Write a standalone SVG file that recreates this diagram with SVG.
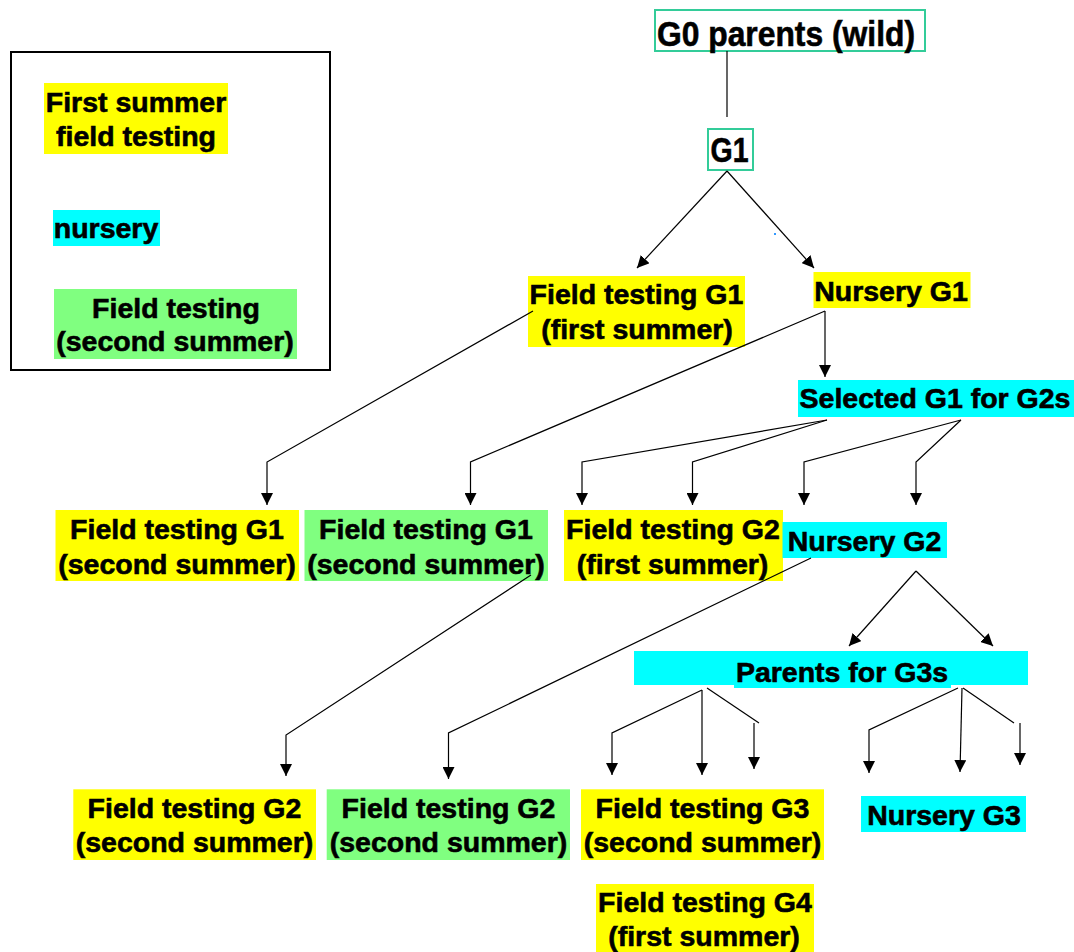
<svg xmlns="http://www.w3.org/2000/svg" width="1074" height="952" viewBox="0 0 1074 952">
<style>
.t{font-family:"Liberation Sans",Arial,sans-serif;font-weight:bold;font-size:28.5px;fill:#000;stroke:#000;stroke-width:0.6;text-anchor:middle}
.y{fill:#FFFF00}.c{fill:#00FFFF}.g{fill:#80FF80}
.bx{fill:#fff;stroke:#33CC99;stroke-width:2}
.ln{stroke:#000;stroke-width:1.2;fill:none}
.a{marker-end:url(#ah)}
</style>
<defs>
<marker id="ah" markerUnits="userSpaceOnUse" markerWidth="12" markerHeight="12" refX="12" refY="6" orient="auto">
<path d="M0,0 L12,6 L0,12 z" fill="#000"/>
</marker>
</defs>
<rect width="1074" height="952" fill="#fff"/>

<g id="legend">
<rect x="11" y="52" width="319" height="318" fill="#fff" stroke="#000" stroke-width="2"/>
<rect class="y" x="44" y="83" width="184" height="71"/>
<text class="t" x="136" y="112">First summer</text>
<text class="t" x="136" y="146">field testing</text>
<rect class="c" x="53" y="210" width="107" height="36"/>
<text class="t" x="106" y="238">nursery</text>
<rect class="g" x="54" y="289" width="243" height="70"/>
<text class="t" x="176" y="318">Field testing</text>
<text class="t" x="175" y="351">(second summer)</text>
</g>

<g id="g0">
<rect class="bx" x="655" y="10" width="270" height="41"/>
<text class="t" x="786" y="46" style="font-size:35px" textLength="258" lengthAdjust="spacingAndGlyphs">G0 parents (wild)</text>
</g>

<g id="g1">
<rect class="bx" x="708" y="129" width="45" height="41"/>
<text class="t" x="729.5" y="162" style="font-size:35px" textLength="38" lengthAdjust="spacingAndGlyphs">G1</text>
</g>

<g id="ft-g1-first">
<rect class="y" x="528" y="276" width="217" height="71"/>
<text class="t" x="636.5" y="304">Field testing G1</text>
<text class="t" x="637" y="339">(first summer)</text>
</g>

<g id="nursery-g1">
<rect class="y" x="813.5" y="272" width="157" height="36"/>
<text class="t" x="891" y="301">Nursery G1</text>
</g>

<g id="selected-g1">
<rect class="c" x="798" y="380" width="276" height="37"/>
<text class="t" x="935" y="408">Selected G1 for G2s</text>
</g>

<g id="ft-g1-second-a">
<rect class="y" x="55.5" y="510" width="243.5" height="71"/>
<text class="t" x="177" y="539">Field testing G1</text>
<text class="t" x="177" y="574">(second summer)</text>
</g>

<g id="ft-g1-second-b">
<rect class="g" x="304.5" y="510" width="243.5" height="71"/>
<text class="t" x="426" y="539">Field testing G1</text>
<text class="t" x="426" y="574">(second summer)</text>
</g>

<g id="ft-g2-first">
<rect class="y" x="564" y="510" width="219" height="71"/>
<text class="t" x="673" y="539">Field testing G2</text>
<text class="t" x="672.5" y="574">(first summer)</text>
</g>

<g id="nursery-g2">
<rect class="c" x="782.5" y="522" width="164.5" height="36"/>
<text class="t" x="864.5" y="551">Nursery G2</text>
</g>

<g id="parents-g3">
<rect class="c" x="634" y="651" width="394" height="34"/>
<rect class="c" x="734" y="651" width="217" height="37"/>
<text class="t" x="842" y="681.5">Parents for G3s</text>
</g>

<g id="ft-g2-second-a">
<rect class="y" x="73.3" y="789.3" width="242.7" height="70.7"/>
<text class="t" x="194.5" y="818">Field testing G2</text>
<text class="t" x="194.5" y="852">(second summer)</text>
</g>

<g id="ft-g2-second-b">
<rect class="g" x="326.7" y="789.3" width="243.3" height="70.7"/>
<text class="t" x="448.5" y="818">Field testing G2</text>
<text class="t" x="448.5" y="852">(second summer)</text>
</g>

<g id="ft-g3-second">
<rect class="y" x="581" y="789.3" width="243" height="70.7"/>
<text class="t" x="702.5" y="818">Field testing G3</text>
<text class="t" x="702.5" y="852">(second summer)</text>
</g>

<g id="nursery-g3">
<rect class="c" x="861" y="796" width="165" height="36"/>
<text class="t" x="944" y="825">Nursery G3</text>
</g>

<g id="ft-g4-first">
<rect class="y" x="596" y="884" width="218" height="68"/>
<text class="t" x="705" y="912">Field testing G4</text>
<text class="t" x="704" y="946">(first summer)</text>
</g>

<g id="connectors">
<path class="ln" d="M727,51 L727,117"/>
<path class="ln a" d="M727,171 L637,268"/>
<path class="ln a" d="M727,171 L814,268"/>
<rect x="774" y="233" width="2" height="2" fill="#3399ff"/>
<path class="ln a" d="M825,311 L825,377"/>
<path class="ln a" d="M825,311 L470.5,462 L470.5,505"/>
<path class="ln a" d="M533,311 L267,462 L267,505"/>
<path class="ln a" d="M827,420 L582,462 L582,505"/>
<path class="ln a" d="M827,420 L692.5,462 L692.5,505"/>
<path class="ln a" d="M961,420 L804,462 L804,505"/>
<path class="ln a" d="M961,420 L916,462 L916,505"/>
<path class="ln a" d="M531,575 L286,735 L286,776"/>
<path class="ln a" d="M811,558 L448.5,733 L448.5,779"/>
<path class="ln a" d="M916,571 L849,646"/>
<path class="ln a" d="M916,571 L993,646"/>
<path class="ln a" d="M702,690 L612,733 L612,775"/>
<path class="ln a" d="M702,690 L702,775"/>
<path class="ln" d="M707,688 L759,723"/>
<path class="ln a" d="M754,723 L754,769"/>
<path class="ln a" d="M958,688 L869,730 L869,773"/>
<path class="ln a" d="M962,688 L960,772"/>
<path class="ln" d="M963,688 L1014,723"/>
<path class="ln a" d="M1020,723 L1020,765"/>
</g>
</svg>
